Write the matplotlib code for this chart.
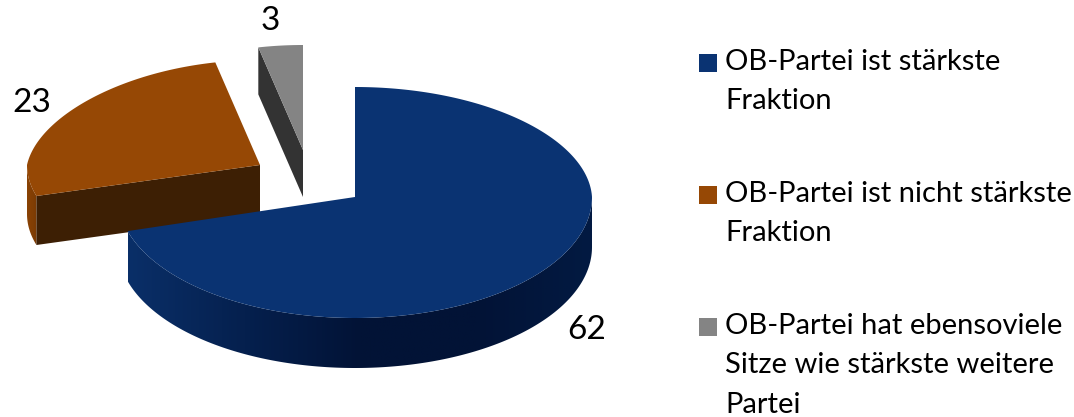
import numpy as np
import matplotlib.pyplot as plt
from matplotlib.patches import Polygon, Rectangle
from matplotlib.colors import LinearSegmentedColormap

categories = ['OB-Partei ist stärkste\nFraktion',
              'OB-Partei ist nicht stärkste\nFraktion',
              'OB-Partei hat ebensoviele\nSitze wie stärkste weitere\nPartei']
values = [62, 23, 3]
top_colors = ['#0A3372', '#964805', '#848484']
cut_colors = ['#0A2F68', '#3D1F04', '#333333']

plt.rcParams['font.family'] = ['Lato', 'DejaVu Sans']

# slice geometry in pixels: centre x, y, radius x, radius up, radius down, depth, narrowing at the back
geom = [(355, 197, 237, 110, 121, 50, 0.03),
        (260, 165, 233, 105, 110, 49, 0.1),
        (303, 150, 233, 105, 110, 47, 0.1)]
label_pos = [(587, 330), (32, 103), (270, 21)]
legend_y = [63, 195, 327]

fig = plt.figure(figsize=[10.74, 4.17], dpi=100)
ax = fig.add_axes([0, 0, 1, 1])


def arc(g, a, b, drop=0):
    cx, cy, rx, up, dn, depth, persp = g
    th = np.radians(np.linspace(a, b, 300))
    c = np.cos(th)
    xs = cx + rx * np.sin(th) * (1 - persp * np.maximum(c, 0))
    ys = cy - c * np.where(c > 0, up, dn) + drop
    return np.column_stack([xs, ys])


def gradient_side(g, a, b, colors, z):
    # outer wall of a slice, filled with a left to right shade
    top = arc(g, a, b)
    bot = arc(g, a, b, g[5])
    poly = Polygon(np.vstack([top, bot[::-1]]), closed=True, fc='none', ec='none')
    ax.add_patch(poly)
    cm = LinearSegmentedColormap.from_list('side', colors)
    x0, x1 = top[:, 0].min(), top[:, 0].max()
    y0, y1 = top[:, 1].min(), bot[:, 1].max()
    im = ax.imshow(np.linspace(0, 1, 256)[None, :], cmap=cm, aspect='auto',
                   extent=[x0, x1, y1, y0], zorder=z)
    im.set_clip_path(poly)


ends = np.cumsum(values) / np.sum(values) * 360
starts = np.r_[0, ends[:-1]]

# draw back slices first, the big one sits in front
for i, z in [(1, 1), (2, 2), (0, 3)]:
    g = geom[i]
    a, b = starts[i], ends[i]
    apex = np.array([g[0], g[1]])
    rim = arc(g, a, b)

    if i == 0:
        gradient_side(g, 90, b, ['#0A2F68', '#05204E', '#021336', '#021336', '#021A42'], z)
    else:
        if i == 1:
            gradient_side(g, a, 270, ['#8A4305', '#7A3A04'], z)
        cut = np.array([apex, rim[0], rim[0] + [0, g[5]], apex + [0, g[5]]])
        ax.add_patch(Polygon(cut, closed=True, fc=cut_colors[i], ec='none', zorder=z))

    ax.add_patch(Polygon(np.vstack([apex, rim]), closed=True, fc=top_colors[i],
                         ec='none', zorder=z + 0.5))
    ax.text(label_pos[i][0], label_pos[i][1], str(values[i]), fontsize=24,
            ha='center', va='center', color='black', zorder=5)

for i in range(3):
    ax.add_patch(Rectangle((699, legend_y[i] - 9), 18, 18, fc=top_colors[i], ec='none'))
    ax.text(725, legend_y[i] - 14, categories[i], fontsize=21, va='top', ha='left',
            color='black', linespacing=1.64)

ax.set_xlim(0, 1074)
ax.set_ylim(417, 0)
ax.axis('off')

plt.savefig('out.png', dpi=100)
